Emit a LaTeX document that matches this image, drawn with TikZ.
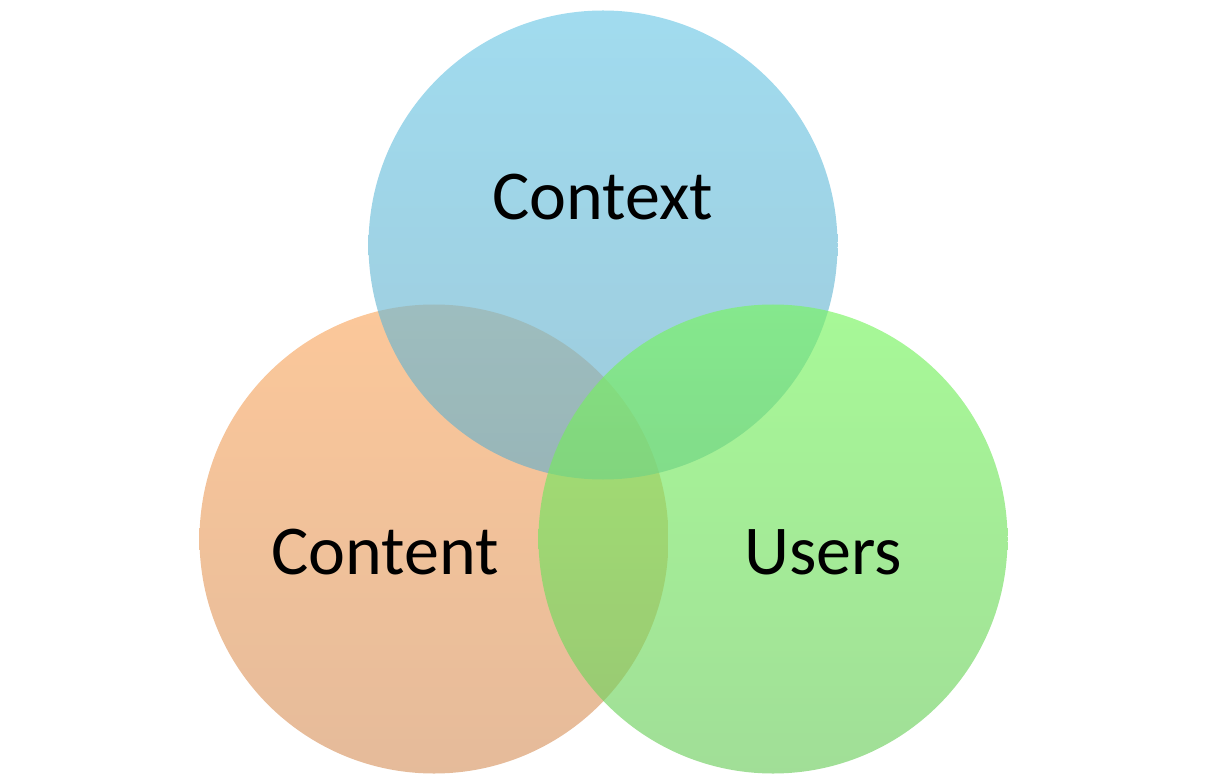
\documentclass[tikz,border=0pt]{standalone}
\usepackage{fontspec}
\setmainfont{Carlito}
\usepackage{tikz}
\definecolor{vennBlueTop}{RGB}{110, 200, 230}
\definecolor{vennBlueBot}{RGB}{105, 175, 200}
\definecolor{vennOrangeTop}{RGB}{250, 170, 100}
\definecolor{vennOrangeBot}{RGB}{215, 150, 100}
\definecolor{vennGreenTop}{RGB}{120, 245, 95}
\definecolor{vennGreenBot}{RGB}{110, 205, 95}

\begin{document}
\begin{tikzpicture}[x=1pt, y=-1pt,
  venn/.style={circle, minimum size=469pt, inner sep=0pt, fill opacity=0.65},
  label/.style={font=\fontsize{70}{80}\selectfont, text=black}]
\useasboundingbox (0,0) rectangle (1209,783);
% Circles
\node[venn, top color=vennOrangeTop, bottom color=vennOrangeBot] (content) at (434,539) {};
\node[venn, top color=vennBlueTop, bottom color=vennBlueBot] (context) at (603,245) {};
\node[venn, top color=vennGreenTop, bottom color=vennGreenBot] (users) at (773,539) {};

% Labels
\node[label] (contextLabel) at (603,197) {Context};
\node[label] (contentLabel) at (385,552) {Content};
\node[label] (usersLabel) at (823,552) {Users};
\end{tikzpicture}
\end{document}
